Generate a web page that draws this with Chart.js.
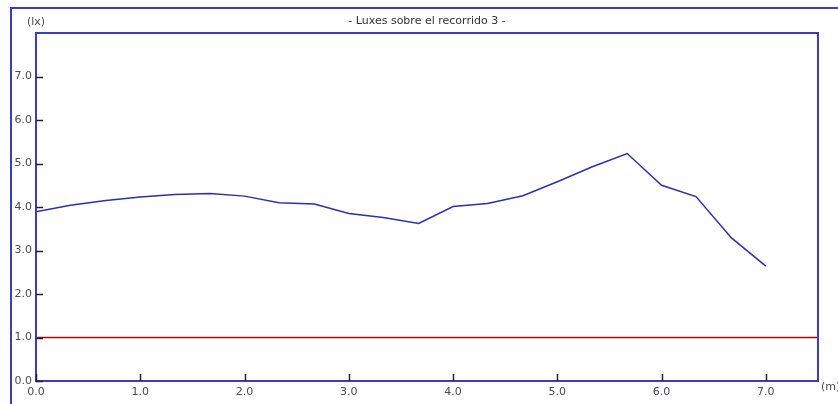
<!DOCTYPE html>
<html>
<head>
<meta charset="utf-8">
<script src="https://cdn.jsdelivr.net/npm/chart.js@4"></script>
<style>
html,body{margin:0;padding:0;background:#fff;}
#wrap{width:838px;height:404px;position:relative;}
</style>
</head>
<body>
<div id="wrap"><canvas id="c" width="838" height="404"></canvas></div>
<script>
const titleText = '- Luxes sobre el recorrido 3 -';
const yUnit = '(lx)';
const xUnit = '(m)';
const distances = [0, 0.33, 0.67, 1.0, 1.33, 1.67, 2.0, 2.33, 2.67, 3.0, 3.33, 3.67, 4.0, 4.33, 4.67, 5.0, 5.33, 5.67, 6.0, 6.33, 6.67, 7.0];
const luxValues = [3.89, 4.04, 4.15, 4.23, 4.29, 4.31, 4.25, 4.10, 4.07, 3.85, 3.76, 3.62, 4.01, 4.08, 4.26, 4.58, 4.92, 5.23, 4.50, 4.24, 3.29, 2.64];
const thresholdX = [0, 7.5];
const thresholdY = [1.0, 1.0];
const xMin = 0, xMax = 7.5, yMin = 0, yMax = 8;

const FONT = 'DejaVu Sans';
const TXT = '#4a4a55';
const FRAME = '#3b3bc6';

const decor = {
  id: 'decor',
  beforeDraw(chart) {
    const ctx = chart.ctx;
    ctx.save();
    ctx.fillStyle = '#fff';
    ctx.fillRect(0, 0, chart.width, chart.height);
    ctx.strokeStyle = FRAME;
    ctx.lineWidth = 2;
    ctx.strokeRect(11, 8, 900, 500);
    ctx.restore();
  },
  afterDraw(chart) {
    const ctx = chart.ctx;
    const a = chart.chartArea;
    const xs = chart.scales.x, ys = chart.scales.y;
    ctx.save();
    // plot frame
    ctx.strokeStyle = FRAME;
    ctx.lineWidth = 2;
    ctx.strokeRect(a.left, a.top, a.right - a.left, a.bottom - a.top);
    // inner ticks
    ctx.strokeStyle = '#222';
    ctx.lineWidth = 1.5;
    ys.ticks.forEach(t => {
      if (t.value > 7) return;
      const y = Math.round(ys.getPixelForValue(t.value)) + 0.5;
      ctx.beginPath(); ctx.moveTo(a.left, y); ctx.lineTo(a.left + 7, y); ctx.stroke();
    });
    xs.ticks.forEach(t => {
      const x = Math.round(xs.getPixelForValue(t.value)) + 0.5;
      ctx.beginPath(); ctx.moveTo(x, a.bottom); ctx.lineTo(x, a.bottom - 7); ctx.stroke();
    });
    // texts
    ctx.fillStyle = '#333';
    ctx.font = '11px ' + FONT;
    ctx.textBaseline = 'middle';
    ctx.textAlign = 'center';
    ctx.fillText(titleText, 427, 21);
    ctx.textAlign = 'left';
    ctx.fillStyle = TXT;
    ctx.fillText(yUnit, 27, 22);
    ctx.fillText(xUnit, a.right + 3, a.bottom + 6);
    ctx.restore();
  }
};

new Chart(document.getElementById('c'), {
  type: 'scatter',
  data: {
    datasets: [
      {
        data: distances.map((d, i) => ({x: d, y: luxValues[i]})),
        showLine: true,
        borderColor: '#2f2fae',
        borderWidth: 1.5,
        pointRadius: 0,
        tension: 0
      },
      {
        data: thresholdX.map((d, i) => ({x: d, y: thresholdY[i]})),
        showLine: true,
        borderColor: '#a00c0c',
        borderWidth: 1.5,
        pointRadius: 0
      }
    ]
  },
  options: {
    responsive: false,
    animation: false,
    devicePixelRatio: 1,
    layout: {padding: {left: 0, top: 33, right: 20, bottom: 0}},
    plugins: {legend: {display: false}, tooltip: {enabled: false}, title: {display: false}},
    scales: {
      x: {
        type: 'linear', min: xMin, max: xMax,
        grid: {display: false, drawTicks: false, tickLength: 0},
        border: {display: false},
        afterBuildTicks(s) { s.ticks = s.ticks.filter(t => Number.isInteger(t.value)); },
        afterFit(s) { s.height = 23; },
        ticks: {stepSize: 1, maxRotation: 0, padding: 5, color: TXT, font: {family: FONT, size: 11},
          callback: v => Number(v).toFixed(1)}
      },
      y: {
        type: 'linear', min: yMin, max: yMax,
        grid: {display: false, drawTicks: false, tickLength: 0},
        border: {display: false},
        afterFit(s) { s.width = 36; },
        ticks: {stepSize: 1, padding: 4, color: TXT, font: {family: FONT, size: 11},
          callback: v => v > 7 ? '' : Number(v).toFixed(1)}
      }
    }
  },
  plugins: [decor]
});
</script>
</body>
</html>
